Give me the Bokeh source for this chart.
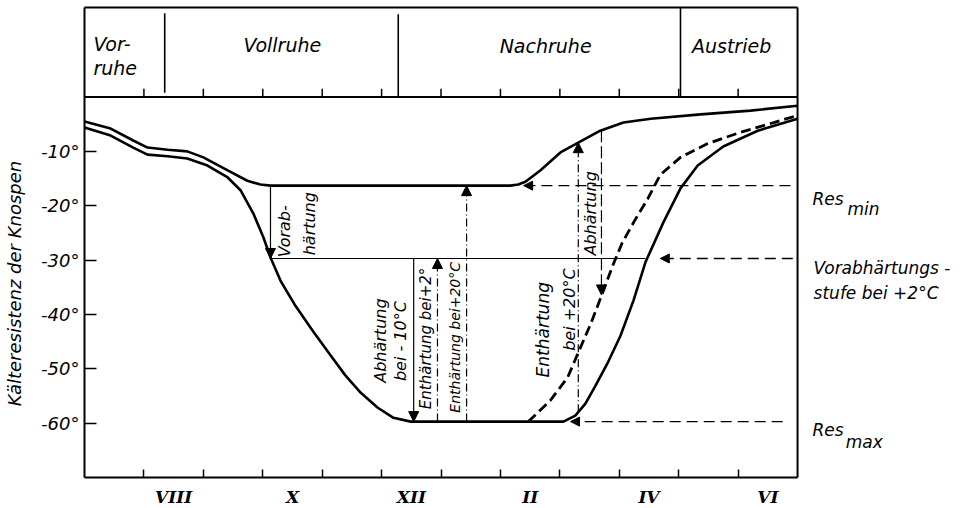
import math
from bokeh.plotting import figure
from bokeh.models import FixedTicker, Arrow, NormalHead, LinearAxis
from bokeh.core.properties import value
from bokeh.embed import file_html
from bokeh.resources import INLINE

# ---------------- data ----------------
# x: months counted from 1 July (0) to 1 July of the next year (12)
month_tick_pos = [1, 2, 3, 4, 5, 6, 7, 8, 9, 10, 11]
month_label_pos = [1.5, 3.5, 5.5, 7.5, 9.5, 11.5]
month_labels = ["VIII", "X", "XII", "II", "IV", "VI"]

y_ticks = [-60, -50, -40, -30, -20, -10]
y_tick_labels = ["-60°", "-50°", "-40°", "-30°", "-20°", "-10°"]

# resistance levels (°C)
RES_MIN = -16.3
VORAB = -29.7
RES_MAX = -59.7

# upper curve (minimum resistance)
upper_x = [0.00, 0.44, 0.82, 1.06, 1.40, 1.73, 2.00, 2.41, 2.74, 2.96, 3.13,
           7.17, 7.30, 7.42, 7.67, 8.01, 8.31, 8.68, 9.07, 9.53, 10.37, 11.21, 12.00]
upper_y = [-4.5, -5.8, -8.0, -9.3, -9.7, -10.0, -11.1, -13.5, -15.4, -16.1, -16.3,
           -16.3, -16.1, -15.6, -13.5, -10.2, -8.4, -6.2, -4.7, -4.0, -3.2, -2.5, -1.6]

# lower curve (maximum resistance)
lower_x = [0.00, 0.44, 0.82, 1.06, 1.40, 1.73, 2.07, 2.41, 2.63, 2.84, 3.01, 3.13,
           3.30, 3.55, 3.84, 4.14, 4.39, 4.65, 4.93, 5.20, 5.49,
           8.06, 8.26, 8.43, 8.60, 8.80, 9.02, 9.24, 9.44, 9.74, 10.03, 10.32,
           10.75, 11.33, 12.00]
lower_y = [-5.6, -7.1, -9.3, -10.6, -10.9, -11.3, -12.6, -14.8, -17.2, -21.4, -25.8, -29.5,
           -33.8, -38.4, -43.0, -47.5, -51.2, -54.4, -57.1, -59.0, -59.7,
           -59.7, -58.6, -56.4, -53.1, -49.0, -43.9, -37.4, -30.4, -23.1, -16.8, -12.6,
           -9.1, -6.2, -4.0]

# dashed curve (de-hardening)
dashed_x = [7.47, 7.84, 8.13, 8.31, 8.52, 8.72, 8.89, 9.05, 9.26, 9.48, 9.69,
            10.03, 10.48, 11.04, 11.60, 12.00]
dashed_y = [-59.7, -55.8, -51.6, -47.0, -41.7, -36.0, -31.0, -26.8, -22.7, -18.7, -14.3,
            -11.1, -8.6, -6.5, -4.7, -3.4]

# phases (top panel)
phase_bounds = [1.35, 5.28, 10.03]
phase_names = ["Vollruhe", "Nachruhe", "Austrieb"]
phase_label_x = [3.33, 7.76, 10.89]

# vertical process arrows: x, from, to
arrow_x = [3.13, 5.54, 5.94, 6.43, 8.31, 8.70]
arrow_from = [RES_MIN, VORAB, RES_MAX, RES_MAX, -58.0, -6.1]
arrow_to = [VORAB, RES_MAX, VORAB, RES_MIN, -8.4, -36.4]

# horizontal reference arrows (from right edge to the left)
level_y = [RES_MIN, VORAB, RES_MAX]
level_from = [11.88, 11.92, 11.75]
level_to = [7.39, 9.69, 8.18]

FONT = value("DejaVu Sans")
Y_BOTTOM = -70
Y_TOP = 16.46     # top edge of the phase panel

# ---------------- figure ----------------
# the frame covers the whole canvas; axes sit at fixed locations
p = figure(width=968, height=508, x_range=(-1.4137, 14.877), y_range=(-75.68, 17.75),
           output_backend="svg", toolbar_location=None,
           x_axis_type=None, y_axis_type=None,
           min_border=0, min_border_left=0, min_border_right=0,
           min_border_top=0, min_border_bottom=0,
           background_fill_color="white", border_fill_color="white",
           outline_line_color=None)
p.grid.visible = False

yaxis = LinearAxis(fixed_location=0, bounds=(Y_BOTTOM, Y_TOP),
                   ticker=FixedTicker(ticks=y_ticks))
yaxis.major_label_overrides = {t: l for t, l in zip(y_ticks, y_tick_labels)}
yaxis.major_tick_in = 12
yaxis.major_tick_out = 0
yaxis.major_tick_line_width = 1.5
yaxis.axis_line_width = 2
yaxis.major_label_standoff = 5
yaxis.major_label_text_font = "DejaVu Sans"
yaxis.major_label_text_font_style = "italic"
yaxis.major_label_text_font_size = "18px"
yaxis.major_label_text_color = "black"
p.add_layout(yaxis, "left")

xaxis = LinearAxis(fixed_location=Y_BOTTOM, bounds=(0, 12),
                   ticker=FixedTicker(ticks=month_label_pos, minor_ticks=month_tick_pos))
xaxis.major_label_overrides = {t: l for t, l in zip(month_label_pos, month_labels)}
xaxis.major_tick_in = 0
xaxis.major_tick_out = 0
xaxis.minor_tick_in = 8
xaxis.minor_tick_out = 0
xaxis.minor_tick_line_width = 1.5
xaxis.axis_line_width = 2
xaxis.major_label_standoff = 9
xaxis.major_label_text_font = "DejaVu Serif"
xaxis.major_label_text_font_style = "bold italic"
xaxis.major_label_text_font_size = "17px"
xaxis.major_label_text_color = "black"
p.add_layout(xaxis, "below")

# frame: top and right borders
p.line([0, 12], [Y_TOP, Y_TOP], line_color="black", line_width=2)
p.line([12, 12], [Y_BOTTOM, Y_TOP], line_color="black", line_width=2)

# ---------------- top panel ----------------
p.line([0, 12], [0, 0], line_color="black", line_width=2)
p.segment(x0=month_tick_pos, y0=[0] * len(month_tick_pos),
          x1=month_tick_pos, y1=[1.5] * len(month_tick_pos),
          line_color="black", line_width=1.5)
p.segment(x0=phase_bounds, y0=[0.8, 0, 0], x1=phase_bounds, y1=[15.4, 15.2, Y_TOP],
          line_color="black", line_width=1.6)
p.text(x=phase_label_x, y=[9.5, 9.4, 9.3], text=phase_names,
       text_font=FONT, text_font_style="italic", text_font_size="19px",
       text_align="center", text_baseline="middle", text_color="black")
p.text(x=[0.15, 0.15], y=[9.75, 5.4], text=["Vor-", "ruhe"],
       text_font=FONT, text_font_style="italic", text_font_size="19px",
       text_align="left", text_baseline="middle", text_color="black")

# ---------------- curves ----------------
p.line(upper_x, upper_y, line_color="black", line_width=2.6)
p.line(lower_x, lower_y, line_color="black", line_width=2.6)
p.line(dashed_x, dashed_y, line_color="black", line_width=2.8, line_dash="10 5")

# thin pre-hardening level
p.line([arrow_x[0], 9.44], [VORAB, VORAB], line_color="black", line_width=1.2)

# ---------------- arrows ----------------
dashes = ["solid", "solid", "8 3 1 3", "8 3 1 3", "8 3 1 3", "12 4"]
for xa, y0, y1, d in zip(arrow_x, arrow_from, arrow_to, dashes):
    p.add_layout(Arrow(x_start=xa, y_start=y0, x_end=xa, y_end=y1,
                       line_color="black", line_width=1.2, line_dash=d,
                       end=NormalHead(size=10, fill_color="black", line_color="black",
                                      line_width=1)))
for ly, x0, x1 in zip(level_y, level_from, level_to):
    p.add_layout(Arrow(x_start=x0, y_start=ly, x_end=x1, y_end=ly,
                       line_color="black", line_width=1.3, line_dash="11 6",
                       end=NormalHead(size=9, fill_color="black", line_color="black",
                                      line_width=1)))

# ---------------- rotated annotation texts ----------------
rot_x = [3.36, 3.79, 4.98, 5.32, 5.74, 6.23, 7.72, 8.16, 8.52]
rot_y = [-24.7, -23.3, -44.8, -44.9, -44.4, -44.2, -42.8, -39.1, -21.4]
rot_text = ["Vorab-", "härtung", "Abhärtung", "bei - 10°C", "Enthärtung bei+2°",
            "Enthärtung bei+20°C", "Enthärtung", "bei +20°C", "Abhärtung"]
rot_size = ["16px", "16px", "16px", "16px", "15px", "14px", "17px", "16px", "16px"]
for xx, yy, tt, ss in zip(rot_x, rot_y, rot_text, rot_size):
    p.text(x=[xx], y=[yy], text=[tt], angle=math.pi / 2,
           text_font=FONT, text_font_style="italic", text_font_size=ss,
           text_align="center", text_baseline="middle", text_color="black")

# ---------------- texts beside the plot ----------------
p.text(x=[-1.18], y=[-34.3], text=["Kälteresistenz der Knospen"], angle=math.pi / 2,
       text_font=FONT, text_font_style="italic", text_font_size="18px",
       text_align="center", text_baseline="middle", text_color="black")
side_x = [12.25, 12.84, 12.27, 12.27, 12.25, 12.81]
side_y = [-18.7, -20.6, -31.5, -36.1, -61.3, -63.5]
side_text = ["Res", "min", "Vorabhärtungs -", "stufe bei +2°C", "Res", "max"]
p.text(x=side_x, y=side_y, text=side_text,
       text_font=FONT, text_font_style="italic", text_font_size="17px",
       text_align="left", text_baseline="alphabetic", text_color="black")

open("out.html", "w").write(file_html(p, INLINE))
